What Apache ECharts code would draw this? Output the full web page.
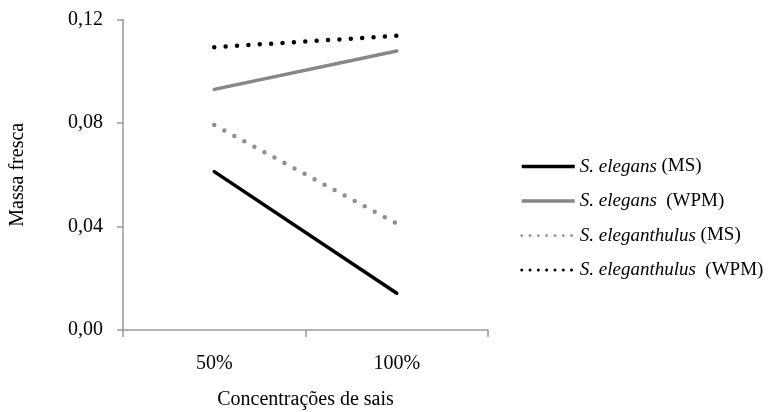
<!DOCTYPE html>
<html><head><meta charset="utf-8">
<script src="https://cdn.jsdelivr.net/npm/echarts@6/dist/echarts.min.js"></script>
<style>html,body{margin:0;padding:0;background:#fff}#c{width:777px;height:412px}</style>
</head><body><div id="c"></div>
<script>
const categories = ['50%', '100%'];
const yTicks = [0, 0.04, 0.08, 0.12];
const seriesNames = ['S. elegans (MS)', 'S. elegans (WPM)', 'S. eleganthulus (MS)', 'S. eleganthulus (WPM)'];
const elegansMS = [0.0612, 0.0142];
const elegansWPM = [0.0930, 0.1078];
const eleganthulusMS = [0.0792, 0.0411];
const eleganthulusWPM = [0.1093, 0.1137];

const chart = echarts.init(document.getElementById('c'));
const font = '"Liberation Serif", "Times New Roman", serif';
const axisColor = '#999';
const styles = [
  { color: '#000', width: 3.5, type: 'solid', cap: 'round' },
  { color: '#878787', width: 3.5, type: 'solid', cap: 'round' },
  { color: '#8f8f8f', width: 4.5, type: [0, 11.4], cap: 'round' },
  { color: '#000', width: 4.5, type: [0, 11.4], cap: 'round' }
];
const legendStyles = [
  { color: '#000', width: 3.5, type: 'solid', cap: 'butt' },
  { color: '#878787', width: 3.5, type: 'solid', cap: 'butt' },
  { color: '#999', width: 3, type: [0, 8.3], cap: 'round' },
  { color: '#000', width: 3, type: [0, 8.3], cap: 'round' }
];
const dataArr = [elegansMS, elegansWPM, eleganthulusMS, eleganthulusWPM];
const legendFmt = {
  'S. elegans (MS)': '{i|S. elegans} (MS)',
  'S. elegans (WPM)': '{i|S. elegans}  (WPM)',
  'S. eleganthulus (MS)': '{i|S. eleganthulus} (MS)',
  'S. eleganthulus (WPM)': '{i|S. eleganthulus}  (WPM)'
};
chart.setOption({
  animation: false,
  textStyle: { fontFamily: font },
  grid: { left: 123, right: 289, top: 19.5, bottom: 82, containLabel: false, outerBoundsMode: 'none' },
  legend: {
    orient: 'vertical',
    left: 515, top: 152,
    itemWidth: 53, itemHeight: 22, itemGap: 15.5,
    itemStyle: { opacity: 0 },
    data: seriesNames.map((n, i) => ({ name: n, lineStyle: legendStyles[i] })),
    formatter: n => legendFmt[n],
    textStyle: {
      fontFamily: font, fontSize: 19, color: '#000',
      rich: { i: { fontStyle: 'italic', fontFamily: font, fontSize: 19, color: '#000' } }
    }
  },
  xAxis: {
    type: 'category', data: categories, boundaryGap: true,
    name: 'Concentrações de sais', nameLocation: 'middle', nameGap: 60,
    nameTextStyle: { fontFamily: font, fontSize: 20, color: '#000' },
    axisLine: { lineStyle: { color: axisColor, width: 1.5 } },
    axisTick: { show: true, length: 7, lineStyle: { color: axisColor, width: 1.5 } },
    axisLabel: { fontFamily: font, fontSize: 20, color: '#000', margin: 24 }
  },
  yAxis: {
    type: 'value', min: 0, max: 0.12, interval: 0.04,
    name: 'Massa fresca', nameLocation: 'middle', nameGap: 95, nameRotate: 90,
    nameTextStyle: { fontFamily: font, fontSize: 20, color: '#000' },
    axisLine: { show: true, lineStyle: { color: axisColor, width: 1.5 } },
    axisTick: { show: true, length: 6, lineStyle: { color: axisColor, width: 1.5 } },
    splitLine: { show: false },
    axisLabel: {
      fontFamily: font, fontSize: 20, color: '#000', margin: 20,
      formatter: v => v.toFixed(2).replace('.', ',')
    }
  },
  series: seriesNames.map((n, i) => ({
    name: n, type: 'line', data: dataArr[i], symbol: 'none',
    lineStyle: styles[i], itemStyle: { color: styles[i].color }
  }))
});
</script></body></html>
